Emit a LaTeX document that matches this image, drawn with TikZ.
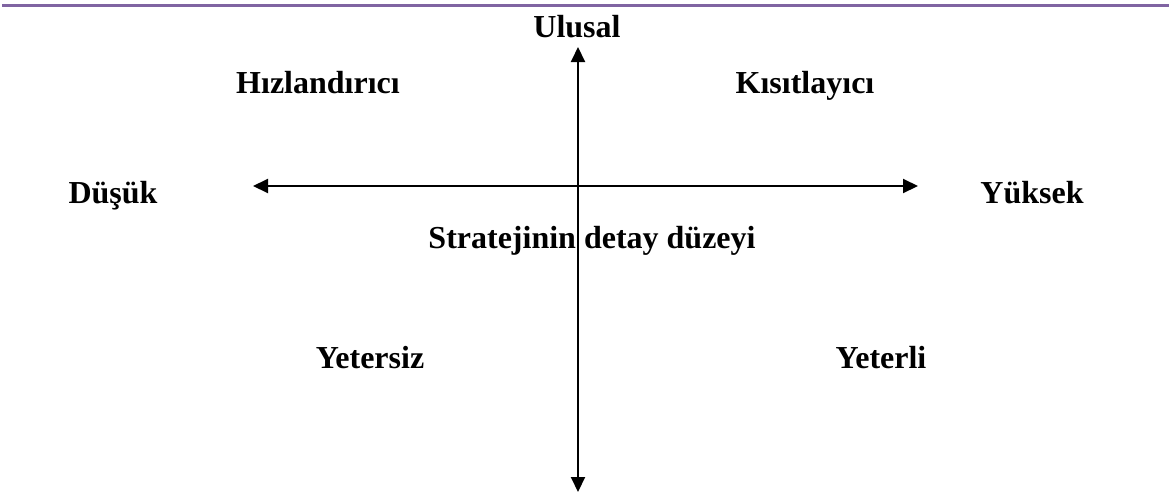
\documentclass[tikz,border=0pt]{standalone}
\usepackage{fontspec}
\setmainfont{Liberation Serif}
\usetikzlibrary{arrows.meta}
\definecolor{topline}{HTML}{8064A2}
\tikzset{
  lbl/.style={anchor=base, inner sep=0pt, font=\fontsize{32}{38}\selectfont\bfseries},
  axis/.style={line width=2pt, {Triangle[length=15pt,width=14pt]}-{Triangle[length=15pt,width=14pt]}}
}
\begin{document}
\begin{tikzpicture}[x=1pt,y=-1pt]
\useasboundingbox (0,0) rectangle (1169,498);
\coordinate (tl) at (2,5);
\coordinate (tr) at (1169,5);
\draw[topline, line width=3pt] (tl) -- (tr);
\coordinate (top) at (578,47);
\coordinate (bot) at (578,492);
\coordinate (lft) at (253,186);
\coordinate (rgt) at (918,186);
\draw[axis] (top) -- (bot);
\draw[axis] (lft) -- (rgt);
\node[lbl] (ulusal) at (577,37) {Ulusal};
\node[lbl] (hiz) at (318,93) {Hızlandırıcı};
\node[lbl] (kis) at (805,93) {Kısıtlayıcı};
\node[lbl] (dusuk) at (113,203) {Düşük};
\node[lbl] (yuksek) at (1032,203) {Yüksek};
\node[lbl] (strat) at (592,248) {Stratejinin detay düzeyi};
\node[lbl] (yetersiz) at (370,368) {Yetersiz};
\node[lbl] (yeterli) at (881,368) {Yeterli};
\end{tikzpicture}
\end{document}
